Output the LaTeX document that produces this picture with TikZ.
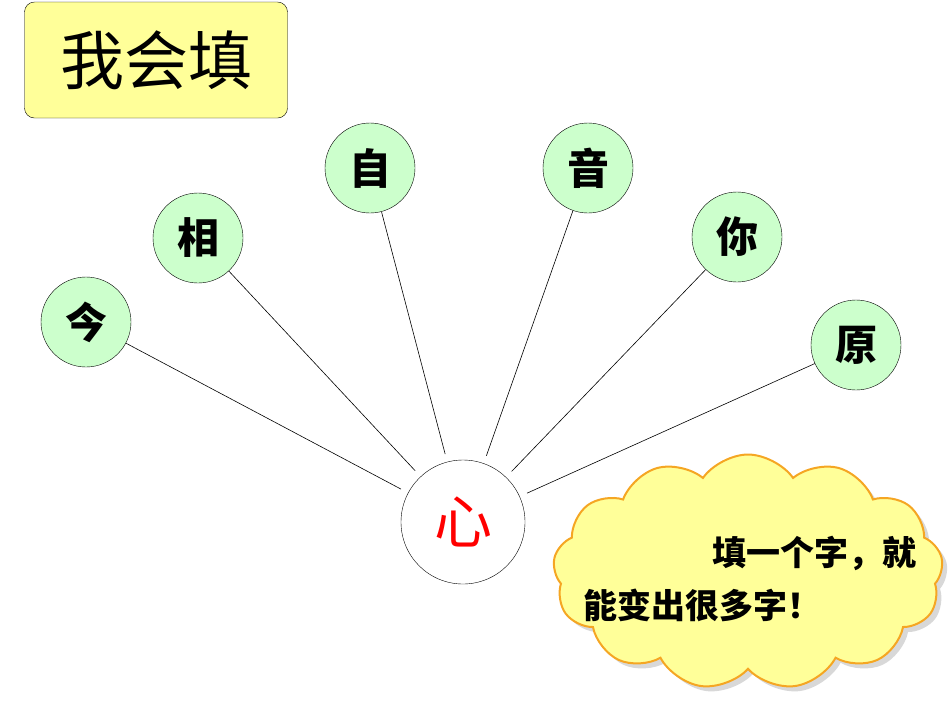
\documentclass[tikz,border=0pt]{standalone}
\usepackage{fontspec}
\newfontfamily\cjk{Noto Sans CJK SC}
\usetikzlibrary{shapes.symbols,shadows}
\definecolor{ly}{HTML}{FFFF99}
\definecolor{lg}{HTML}{CCFFCC}
\definecolor{orng}{HTML}{F5A623}
\begin{document}
\begin{tikzpicture}[x=1pt,y=-1pt,
  leaf/.style={circle,draw,fill=lg,minimum size=90pt,inner sep=0pt,font=\cjk\fontsize{42}{42}\selectfont\bfseries},
  link/.style={draw,line width=0.6pt}]
\useasboundingbox (0,0) rectangle (950,713);
\node[draw,rounded corners=10pt,fill=ly,minimum width=263pt,minimum height=116pt,font=\cjk\fontsize{64}{64}\selectfont] (t) at (156,60) {我会填};
\node[leaf] (a) at (86,322) {今};
\node[leaf] (b) at (198,238) {相};
\node[leaf] (c) at (370,168) {自};
\node[leaf] (d) at (588,168) {音};
\node[leaf] (e) at (737,237) {你};
\node[leaf] (f) at (856,345) {原};
\node[circle,draw,fill=white,minimum size=124pt,inner sep=0pt,text=red,font=\cjk\fontsize{58}{58}\selectfont] (h) at (463,522) {心};
\foreach \n in {a,b,c,d,e,f} \draw[link,shorten >=8pt] (\n) -- (h);
\node[cloud,cloud puffs=13,cloud puff arc=110,aspect=1.7,draw=orng,line width=2pt,fill=ly,
  minimum width=390pt,minimum height=235pt,drop shadow={shadow xshift=5pt,shadow yshift=-5pt,fill=gray!60}] (cl) at (748,572) {};
\node[font=\cjk\fontsize{34}{34}\selectfont\bfseries,anchor=east] (l1) at (920,553) {填一个字，就};
\node[font=\cjk\fontsize{34}{34}\selectfont\bfseries,anchor=west] (l2) at (580,605) {能变出很多字！};
\end{tikzpicture}
\end{document}
